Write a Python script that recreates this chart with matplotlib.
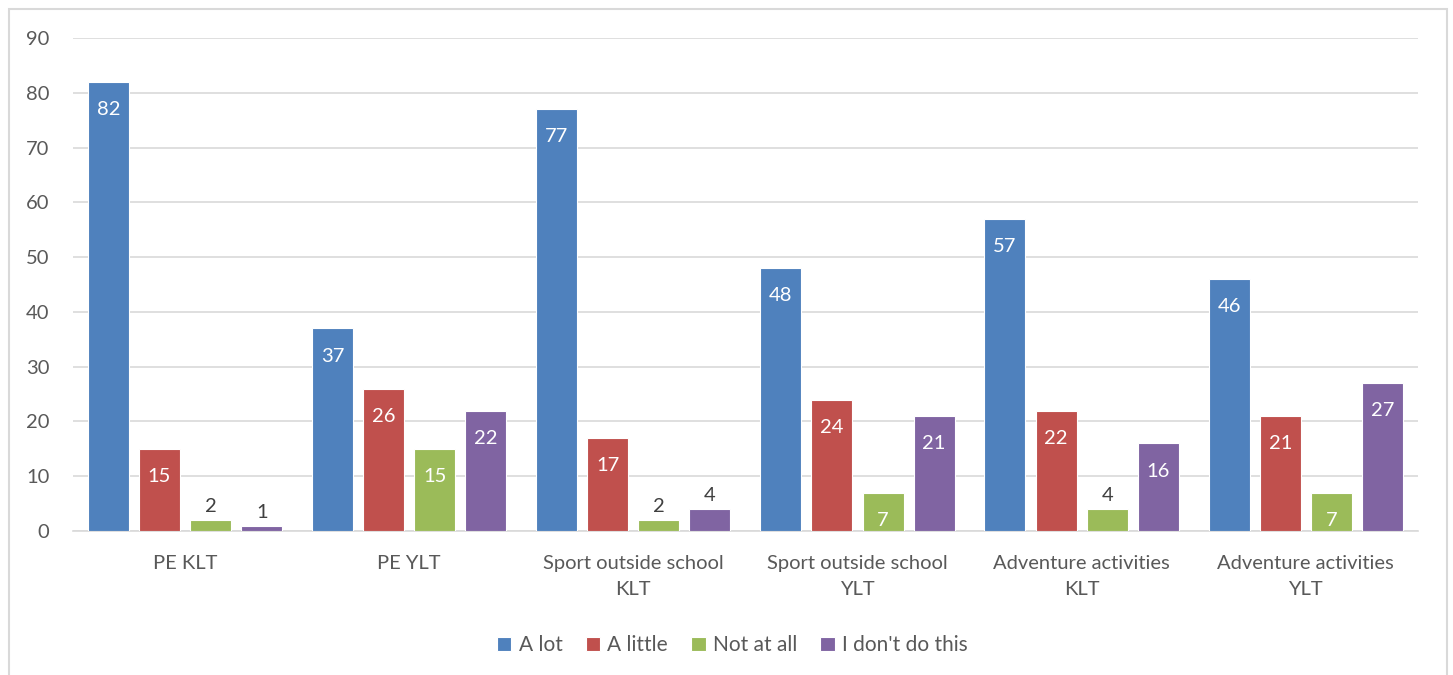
import numpy as np
import matplotlib
matplotlib.use('Agg')
import matplotlib.pyplot as plt
from matplotlib.patches import Rectangle

# data
categories = ['PE KLT', 'PE YLT', 'Sport outside school\nKLT', 'Sport outside school\nYLT',
              'Adventure activities\nKLT', 'Adventure activities\nYLT']
a_lot = [82, 37, 77, 48, 57, 46]
a_little = [15, 26, 17, 24, 22, 21]
not_at_all = [2, 15, 2, 7, 4, 7]
dont_do = [1, 22, 4, 21, 16, 27]
series_names = ['A lot', 'A little', 'Not at all', "I don't do this"]
colors = ['#4F81BD', '#C0504D', '#9BBB59', '#8064A2']

plt.rcParams['font.family'] = ['Lato', 'DejaVu Sans']
txt = '#595959'
grid = '#D9D9D9'

fig = plt.figure(figsize=(14.53, 6.75), dpi=100)
ax = fig.add_axes([0.0502, 0.2133, 0.9256, 0.7304])

x = np.arange(len(categories))
step = 0.228
bw = 0.183
series = [a_lot, a_little, not_at_all, dont_do]
for i, (vals, name, c) in enumerate(zip(series, series_names, colors)):
    pos = x + (i - 1.5) * step
    bars = ax.bar(pos, vals, bw, color=c, edgecolor='white', linewidth=0.8, label=name, zorder=3)
    for b, v in zip(bars, vals):
        cx = b.get_x() + b.get_width() / 2
        if v >= 5:
            ax.annotate(str(v), (cx, v), xytext=(0, -20), textcoords='offset points',
                        ha='center', va='center', color='white', fontsize=14.5, zorder=4)
        else:
            ax.annotate(str(v), (cx, v), xytext=(0, 9.5), textcoords='offset points',
                        ha='center', va='center', color='#404040', fontsize=14.5, zorder=4)

ax.set_xlim(-0.5, len(categories) - 0.5)
ax.set_ylim(0, 90)
ax.set_yticks(range(0, 91, 10))
ax.set_xticks(x)
ax.set_xticklabels(categories, linespacing=1.65)
ax.yaxis.grid(True, color=grid, linewidth=1.2, zorder=0)
ax.set_axisbelow(True)
for s in ['top', 'right', 'left']:
    ax.spines[s].set_visible(False)
ax.spines['bottom'].set_color(grid)
ax.spines['bottom'].set_linewidth(1.2)
ax.tick_params(axis='both', length=0, labelsize=14.5, colors=txt)
ax.tick_params(axis='x', pad=17)
ax.tick_params(axis='y', pad=17)

fig.legend(loc='center', bbox_to_anchor=(0.504, 0.044), ncol=4, frameon=False,
           fontsize=15, labelcolor=txt, handlelength=0.7, handleheight=0.7,
           handletextpad=0.35, columnspacing=1.1)

fig.patches.append(Rectangle((0.0062, -0.1), 0.9897, 1.0867, transform=fig.transFigure,
                             fill=False, edgecolor=grid, linewidth=1.5))

fig.savefig('out.png', dpi=100)
